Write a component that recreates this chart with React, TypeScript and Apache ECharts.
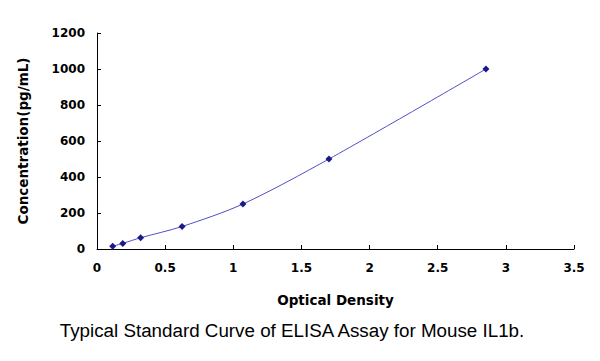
import React, { useEffect, useRef } from "react";
import * as echarts from "echarts";

const odValues = [0.115, 0.189, 0.32, 0.624, 1.071, 1.702, 2.854];
const concValues = [15.6, 31.25, 62.5, 125, 250, 500, 1000];
const xTicks = [0, 0.5, 1, 1.5, 2, 2.5, 3, 3.5];
const yTicks = [0, 200, 400, 600, 800, 1000, 1200];

export default function App() {
  const ref = useRef<HTMLDivElement>(null);
  useEffect(() => {
    if (!ref.current) return;
    const chart = echarts.init(ref.current, null, { renderer: "svg" });
    const bold = "DejaVu Sans, Verdana, sans-serif";
    const title = "Liberation Sans, Arial, sans-serif";
    chart.setOption({
      animation: false,
      backgroundColor: "#ffffff",
      title: {
        text: "Typical Standard Curve of ELISA Assay for Mouse IL1b.",
        left: 287,
        textAlign: "center",
        top: 316,
        textStyle: { fontFamily: title, fontSize: 18.8, fontWeight: "normal", color: "#000" },
      },
      grid: { left: 97, right: 26, top: 33, bottom: 112 },
      xAxis: {
        type: "value",
        min: xTicks[0],
        max: xTicks[xTicks.length - 1],
        interval: 0.5,
        name: "Optical Density",
        nameLocation: "middle",
        nameGap: 44,
        nameTextStyle: { fontFamily: bold, fontSize: 13.5, fontWeight: "bold", color: "#000" },
        axisLine: { lineStyle: { color: "#000", width: 1 } },
        axisTick: { inside: true, length: 4, lineStyle: { color: "#000" } },
        axisLabel: { fontFamily: bold, fontSize: 12, fontWeight: "bold", color: "#000", margin: 13 },
        splitLine: { show: false },
      },
      yAxis: {
        type: "value",
        min: yTicks[0],
        max: yTicks[yTicks.length - 1],
        interval: 200,
        name: "Concentration(pg/mL)",
        nameLocation: "middle",
        nameGap: 67,
        nameRotate: 90,
        nameTextStyle: { fontFamily: bold, fontSize: 13.5, fontWeight: "bold", color: "#000" },
        axisLine: { show: true, lineStyle: { color: "#000", width: 1 } },
        axisTick: { show: true, inside: true, length: 4, lineStyle: { color: "#000" } },
        axisLabel: {
          fontFamily: bold,
          fontSize: 12,
          fontWeight: "bold",
          color: "#000",
          margin: 12,
          formatter: (v: number) => String(v),
        },
        splitLine: { show: false },
      },
      series: [
        {
          type: "line",
          data: odValues.map((x, i) => [x, concValues[i]]),
          smooth: 0.3,
          symbol: "diamond",
          symbolSize: 7,
          itemStyle: { color: "#1a1a8a" },
          lineStyle: { color: "#5050c4", width: 1 },
        },
      ],
    });
    return () => chart.dispose();
  }, []);
  return (
    <div
      ref={ref}
      style={{ position: "fixed", left: 0, top: 0, width: 600, height: 361, background: "#fff" }}
    />
  );
}
